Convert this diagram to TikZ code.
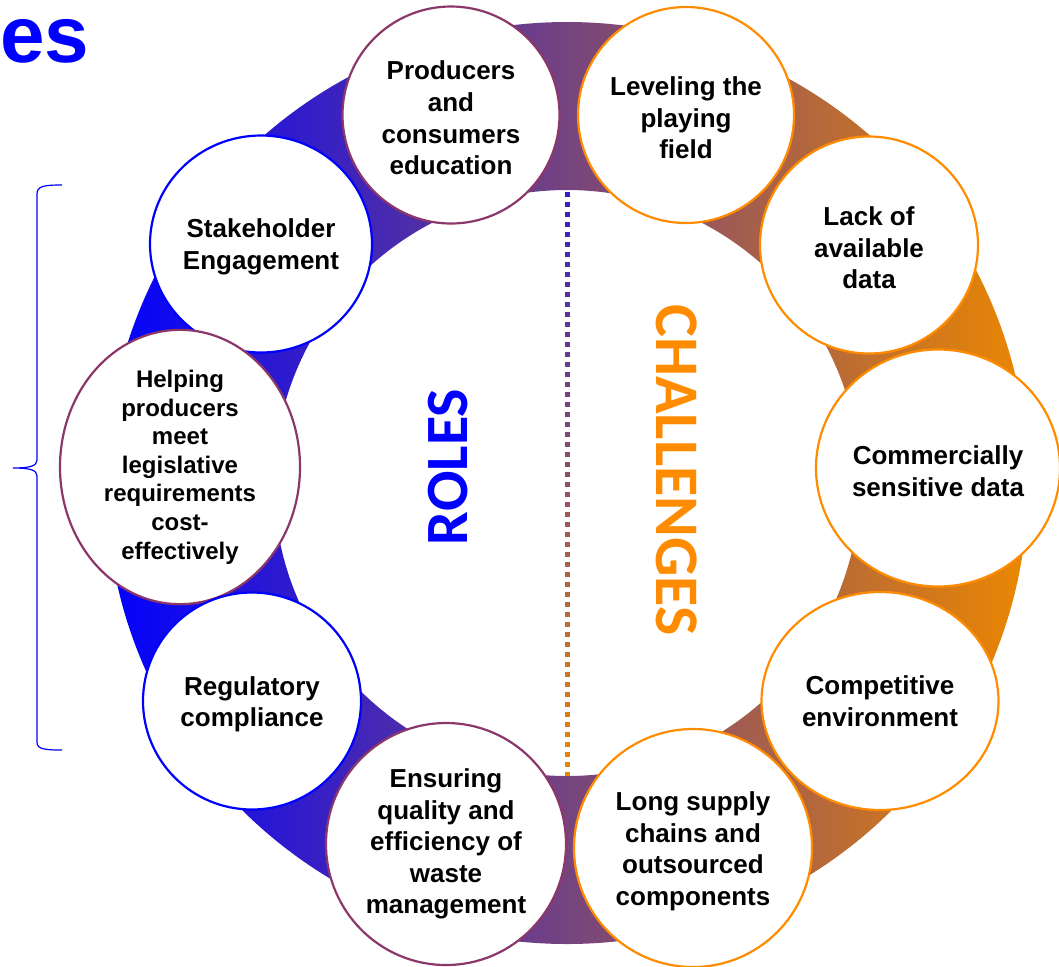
\documentclass[tikz,border=0pt]{standalone}
\usepackage{fontspec}
\setmainfont{Liberation Sans}
\newfontfamily\capfont{Carlito}
\usetikzlibrary{shapes.geometric}
\definecolor{ringblue}{RGB}{0,0,255}
\definecolor{ringorange}{RGB}{235,135,0}
\definecolor{rolepurple}{RGB}{140,55,105}
\definecolor{chalorange}{RGB}{255,140,0}
\newcommand{\tl}{\rule{0pt}{12.5pt}}% lowers the text a little in its bubble
\tikzset{
  bub/.style={ellipse,draw,fill=white,line width=1.1pt,inner sep=0pt,align=center,
    font=\bfseries\fontsize{13}{15.8}\selectfont},
  rolebub/.style={bub,draw=ringblue},
  midbub/.style={bub,draw=rolepurple},
  chalbub/.style={bub,draw=chalorange},
  sidelabel/.style={font=\capfont\bfseries\fontsize{30}{30}\selectfont,inner sep=0pt}
}
\begin{document}
\begin{tikzpicture}[x=0.5pt,y=-0.5pt]
	\useasboundingbox (0,0) rectangle (1059,966);
	\coordinate (ctr) at (567,483);
	% dotted divider, blue at the top, orange at the bottom
	\foreach \i in {0,...,75}{
		\pgfmathtruncatemacro\p{100*\i/75}
		\fill[ringorange!\p!ringblue] (565,{22+10*\i}) rectangle +(4.5,4.5);
	}
	\shade[left color=ringblue,right color=ringorange,even odd rule] (ctr) circle[radius=461] (ctr) circle[radius=293];
	% roles (left) and challenges (right)
	\node[midbub,minimum width=108.5pt,minimum height=108.5pt] (prod) at (451,115) {\tl Producers\\and\\consumers\\education};
	\node[rolebub,minimum width=111pt,minimum height=108.5pt] (stake) at (261,244) {\tl Stakeholder\\Engagement};
	\node[midbub,minimum width=120pt,minimum height=118.5pt,font=\bfseries\fontsize{12}{14.3}\selectfont] (help) at (180,467) {Helping\\producers\\meet\\legislative\\requirements\\cost-\\effectively};
	\node[rolebub,minimum width=109pt,minimum height=108.5pt] (reg) at (252,701) {\tl Regulatory\\compliance};
	\node[midbub,minimum width=120pt,minimum height=121pt] (ens) at (446,844) {Ensuring\\quality and\\efficiency of\\waste\\management};
	\node[chalbub,minimum width=108pt,minimum height=108pt] (level) at (686,115) {\tl Leveling the\\playing\\field};
	\node[chalbub,minimum width=109pt,minimum height=108.5pt] (lack) at (869,245) {\tl Lack of\\available\\data};
	\node[chalbub,minimum width=122pt,minimum height=118.5pt] (comm) at (938,468) {\tl Commercially\\sensitive data};
	\node[chalbub,minimum width=118.5pt,minimum height=109pt] (comp) at (880,701) {Competitive\\environment};
	\node[chalbub,minimum width=119pt,minimum height=119pt] (long) at (693,848) {\tl Long supply\\chains and\\outsourced\\components};
	\node[sidelabel,text=ringblue,rotate=90] (roles) at (448,467) {ROLES};
	\node[sidelabel,text=chalorange,rotate=-90,font=\capfont\bfseries\fontsize{31}{31}\selectfont] (chal) at (677,470) {CHALLENGES};
	\node[anchor=base west,inner sep=0pt,text=ringblue,font=\bfseries\fontsize{40}{40}\selectfont] (ttl) at (0,62) {es};
	% brace on the left
	\draw[ringblue,line width=0.6pt] (62,185) .. controls (44,185) and (37,186) .. (37,194) -- (37,460)
		.. controls (37,466) and (30,468) .. (13,468) .. controls (30,468) and (37,470) .. (37,476)
		-- (37,742) .. controls (37,749) and (44,750) .. (62,750);
\end{tikzpicture}
\end{document}
